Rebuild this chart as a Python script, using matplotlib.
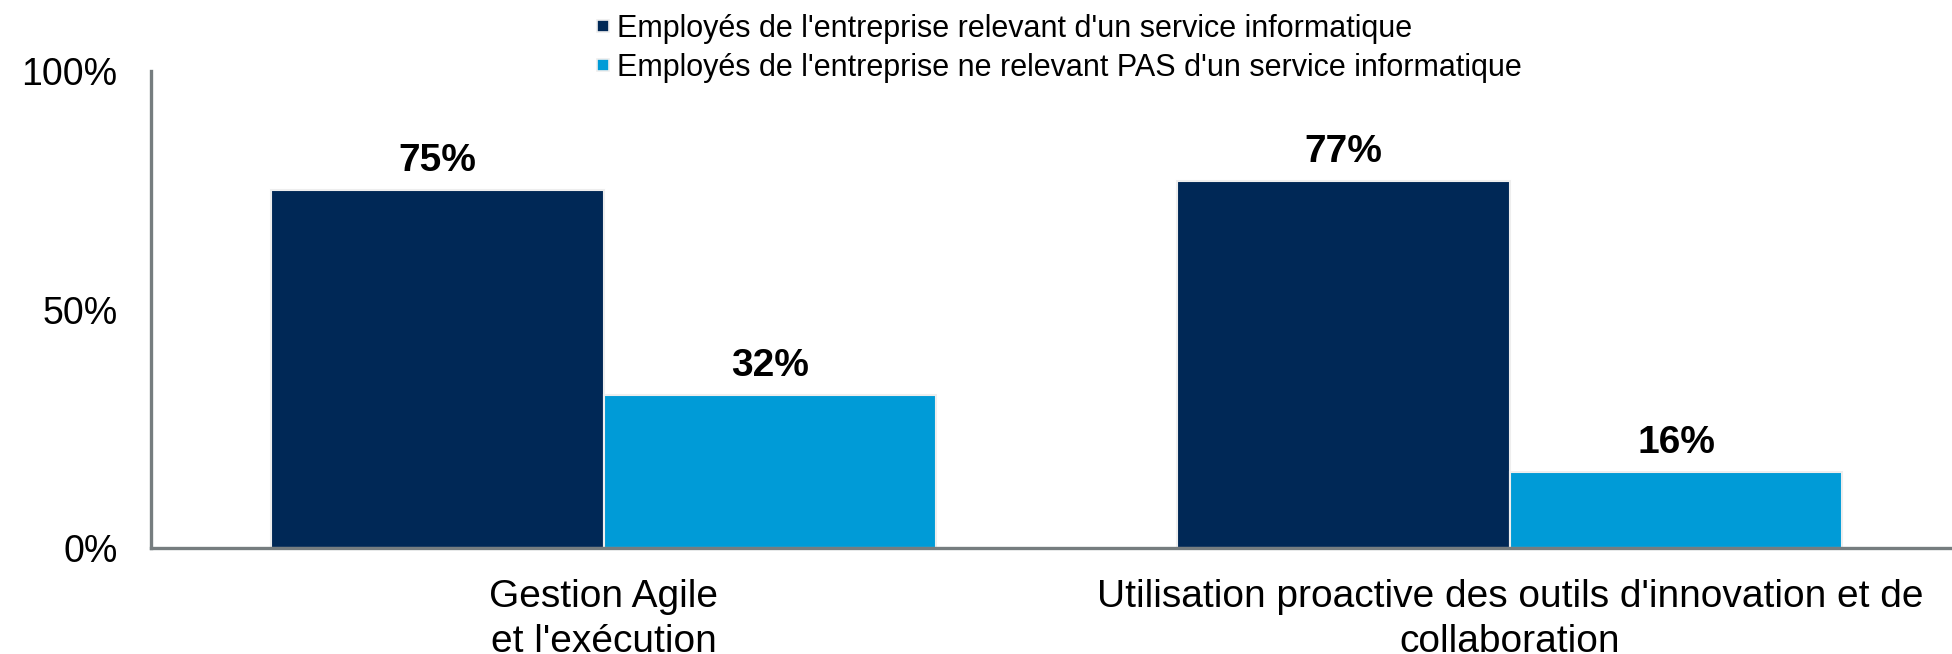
import matplotlib
matplotlib.use("Agg")
import matplotlib.pyplot as plt
from matplotlib.lines import Line2D
import numpy as np

plt.rcParams['font.family'] = ['Liberation Sans', 'DejaVu Sans']

categories = ["Gestion Agile\net l'exécution",
              "Utilisation proactive des outils d'innovation et de\ncollaboration"]
series_names = ["Employés de l'entreprise relevant d'un service informatique",
                "Employés de l'entreprise ne relevant PAS d'un service informatique"]
it_values = [75, 77]
non_it_values = [32, 16]
yticks = [0, 50, 100]
ytick_labels = ["0%", "50%", "100%"]

colors = ["#002856", "#009BD7"]
edge = "#EEEEEE"
spine_color = "#767D7F"

fig = plt.figure(figsize=(19.52, 6.54), dpi=100)
ax = fig.add_axes([151/1952, 1 - 548/654, 1 - 151/1952, (548 - 71)/654])

x = np.arange(len(categories))
w = 0.367
b1 = ax.bar(x - w/2, it_values, w, color=colors[0], edgecolor=edge, linewidth=1.5)
b2 = ax.bar(x + w/2, non_it_values, w, color=colors[1], edgecolor=edge, linewidth=1.5)

for bars, vals in ((b1, it_values), (b2, non_it_values)):
    for r, v in zip(bars, vals):
        ax.annotate(f"{v}%", (r.get_x() + r.get_width()/2, v), xytext=(0, 8),
                    textcoords="offset points", ha="center", va="bottom",
                    fontsize=28, fontweight="bold", color="black")

ax.set_xlim(-0.5, 1.488)
ax.set_ylim(0, 100)
ax.set_yticks(yticks)
ax.set_yticklabels(ytick_labels, fontsize=27)
ax.set_xticks(x)
ax.set_xticklabels(categories, fontsize=28, linespacing=1.32)
ax.tick_params(axis='y', length=0, pad=24)
ax.tick_params(axis='x', length=0, pad=22)

for s in ("top", "right"):
    ax.spines[s].set_visible(False)
for s in ("left", "bottom"):
    ax.spines[s].set_color(spine_color)
    ax.spines[s].set_linewidth(2.4)

handles = [Line2D([], [], marker='s', linestyle='none', markersize=8,
                  markerfacecolor=c, markeredgecolor=edge, markeredgewidth=1.2)
           for c in colors]
fig.legend(handles, series_names, loc="upper left", bbox_to_anchor=(580/1952, 0.998),
           frameon=False, fontsize=22, handletextpad=0.1, labelspacing=0.3,
           handlelength=0.7, borderaxespad=0)

fig.savefig("out.png", dpi=100)
